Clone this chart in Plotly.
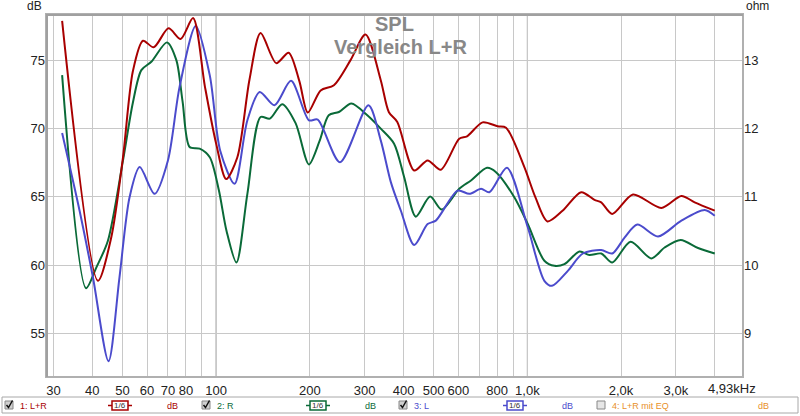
import numpy as np
import plotly.graph_objects as go

# Frequenzen (Hz) und Pegel (dB) der drei Kurven
f_lr = [32, 41.7, 46, 50.2, 54, 58.2, 63, 70.3, 76.9, 84.3, 92, 100, 107.7, 117, 128,
        138.9, 156, 171, 185, 197, 216.7, 239, 270, 302, 338, 359, 382, 433, 478, 527, 604,
        640, 718, 803, 854, 978, 1060, 1160, 1300, 1489, 1643, 1727, 1874, 2185, 2694, 3125,
        3448, 4000]
db_lr = [77.9, 58.85, 62.0, 67.9, 74.2, 76.44, 75.96, 77.35, 76.57, 78.1, 73.1, 68.9,
         66.3, 67.9, 73.6, 77.0, 74.8, 75.56, 73.5, 71.18, 72.8, 73.18, 75.0, 76.9, 73.55, 71.2,
         70.49, 66.93, 67.67, 66.99, 69.26, 69.43, 70.46, 70.17, 70.07, 67.18, 65.0, 63.2, 64.0,
         65.34, 64.78, 64.6, 63.75, 65.17, 64.19, 65.07, 64.6, 63.99]

f_r = [32, 38.2, 41.2, 44.9, 50.2, 54, 57.5, 61.9, 69.5, 74.5, 78, 82.2, 88.5, 95.4, 102,
       108, 116.2, 126, 138.9, 148.8, 163, 180, 198.7, 215, 230, 248, 272, 306, 338, 373, 402,
       438, 487, 531, 604, 659, 742, 793, 908, 1003, 1134, 1222, 1315, 1471, 1583, 1727, 1874,
       2146, 2502, 2761, 3109, 3535, 4000]
db_r = [73.92, 58.31, 59.82, 61.79, 67.67, 71.9, 74.29, 74.9, 76.32, 75.02, 72.0, 68.65,
        68.53, 67.9, 65.5, 62.5, 60.19, 65.22, 70.85, 70.73, 71.79, 70.4, 67.38, 69.1, 70.98,
        71.22, 71.84, 70.98, 70.0, 68.9, 66.44, 63.55, 65.02, 64.07, 65.59, 66.2, 67.13, 66.81,
        64.97, 63.01, 60.32, 59.95, 60.07, 61.0, 60.74, 60.85, 60.19, 61.71, 60.49, 61.29,
        61.84, 61.25, 60.85]

f_l = [32, 36.4, 40.2, 45.1, 48.9, 52.7, 56.8, 63.4, 70, 76.3, 86, 95.4, 103, 114.6, 126, 138,
       154, 174, 198.7, 212, 250, 308.6, 338, 364, 392, 433, 478, 508, 597, 651, 710, 755, 860,
       1003, 1134, 1200, 1349, 1507, 1727, 1874, 2055, 2255, 2629, 3125, 3714, 4000]
db_l = [69.68, 64.0, 59.09, 52.96, 59.09, 64.97, 67.18, 65.22, 67.67, 73.06, 77.52, 73.9, 68.4,
        65.96, 70.61, 72.69, 71.71, 73.5, 70.61, 70.66, 67.54, 71.71, 69.14, 66.1, 64.0, 61.47,
        63.01, 63.26, 65.46, 65.22, 65.59, 65.34, 67.13, 62.77, 58.85, 58.48, 59.58, 60.85,
        61.1, 60.85, 62.03, 62.97, 62.1, 63.26, 64.04, 63.62]

# Achsen
x_grid = [30, 40, 50, 60, 70, 80, 90, 100, 200, 300, 400, 500, 600, 700, 800, 900, 1000,
          2000, 3000, 4000]
x_text = ['30', '40', '50', '60', '70', '80', '', '100', '200', '300', '400', '500', '600', '',
          '800', '', '1,0k', '2,0k', '3,0k', '']
y_ticks = [55, 60, 65, 70, 75]
ohm_ticks = [9, 10, 11, 12, 13]
f_min, f_max = 28.4, 4930
db_min, db_max = 51.8, 78.4

# Farben
c_lr = '#a80000'
c_r = '#0a6a38'
c_l = '#4b4bcc'
c_eq = '#e8902a'

# Plotbereich in Pixeln
PL, PR, PT, PB = 46, 743, 14, 377
W, H = 800, 416


def px(x):
    return (x - PL) / (PR - PL)


def py(y):
    return (PB - y) / (PB - PT)


def fx(f):
    lo, hi = np.log10(f_min), np.log10(f_max)
    return (np.log10(f) - lo) / (hi - lo)


def label(text, x, y, size, color, xanchor='center'):
    return dict(text=text, x=px(x), y=py(y), xref='paper', yref='paper', showarrow=False,
                xanchor=xanchor, yanchor='middle', font=dict(size=size, color=color))


fig = go.Figure()
for f, d, c, n in [(f_r, db_r, c_r, '2: R'), (f_l, db_l, c_l, '3: L'),
                   (f_lr, db_lr, c_lr, '1: L+R')]:
    fig.add_trace(go.Scatter(x=f, y=d, mode='lines', name=n,
                             line=dict(color=c, width=2, shape='spline', smoothing=0.8)))

# unsichtbare Spur fuer die ohm-Achse
fig.add_trace(go.Scatter(x=[100], y=[10], yaxis='y2', mode='markers',
                         marker=dict(opacity=0), hoverinfo='skip', showlegend=False))

shapes = []
# dunklere Linien bei 100 Hz und 1 kHz
for f in [100, 1000]:
    shapes.append(dict(type='line', xref='paper', yref='paper', x0=fx(f), x1=fx(f), y0=0, y1=1,
                       line=dict(color='#808080', width=1), layer='below'))
# Rahmen (oben/links etwas kraeftiger)
shapes.append(dict(type='rect', xref='paper', yref='paper', x0=0, x1=1, y0=0, y1=1,
                   line=dict(color='#b0b0b0', width=2)))
shapes.append(dict(type='path', xref='paper', yref='paper',
                   path='M {} {} L {} {} L {} {}'.format(px(PL + 1), py(PB), px(PL + 1),
                                                         py(PT + 1), px(PR), py(PT + 1)),
                   line=dict(color='#a0a0a0', width=2)))

ann = [
    label('<b>SPL</b>', 394, 24, 20, '#888888'),
    label('<b>Vergleich L+R</b>', 400, 47, 20, '#888888'),
    label('dB', 34, 6, 12, '#222'),
    label('ohm', 757, 6, 12, '#222'),
    label('4,93kHz', 758, 389, 13, '#222', xanchor='right'),
]

# Legendenleiste unten
shapes.append(dict(type='rect', xref='paper', yref='paper', x0=px(2), x1=px(798),
                   y0=py(413), y1=py(397), line=dict(color='#a8a8a8', width=1),
                   fillcolor='white'))
legend_items = [
    (5, '1: L+R', c_lr, 120, 172, True),
    (202, '2: R', c_r, 318, 370, True),
    (399, '3: L', c_l, 515, 567, True),
    (597, '4: L+R mit EQ', c_eq, None, 764, False),
]
for cbx, name, col, box, dbx, checked in legend_items:
    shapes.append(dict(type='rect', xref='paper', yref='paper', x0=px(cbx), x1=px(cbx + 8),
                       y0=py(409), y1=py(401),
                       line=dict(color='#888', width=1),
                       fillcolor='#d0d0d0' if checked else '#e6e6e6'))
    if checked:
        # Haken als Pfad
        pts = [(cbx + 1.5, 405), (cbx + 3.5, 407.5), (cbx + 7.5, 400.5)]
        path = 'M {} {} L {} {} L {} {}'.format(*[v for p in pts for v in (px(p[0]), py(p[1]))])
        shapes.append(dict(type='path', xref='paper', yref='paper', path=path,
                           line=dict(color='#111', width=1.5)))
    ann.append(label(name, cbx + 13, 405.5, 9, col, xanchor='left'))
    if box is not None:
        shapes.append(dict(type='line', xref='paper', yref='paper', x0=px(box - 12),
                           x1=px(box + 12), y0=py(405.5), y1=py(405.5),
                           line=dict(color=col, width=1.5)))
        shapes.append(dict(type='rect', xref='paper', yref='paper', x0=px(box - 8),
                           x1=px(box + 8), y0=py(410), y1=py(401),
                           line=dict(color=col, width=1.5), fillcolor='white'))
        ann.append(label('1/6', box, 405.5, 8, '#333'))
    ann.append(label('dB', dbx, 405.5, 9, col))

fig.update_layout(
    width=W, height=H,
    margin=dict(l=PL, r=W - PR, t=PT, b=H - PB, pad=0),
    plot_bgcolor='white',
    paper_bgcolor='white',
    font=dict(family='Liberation Sans, Arial, sans-serif', color='#222'),
    showlegend=False,
    xaxis=dict(type='log', range=[np.log10(f_min), np.log10(f_max)],
               tickvals=x_grid, ticktext=x_text, showgrid=True, gridcolor='#c8c8c8',
               gridwidth=1, zeroline=False, showline=False, ticks='',
               ticklabelstandoff=4, tickfont=dict(size=13, color='#222')),
    yaxis=dict(range=[db_min, db_max], tickvals=y_ticks, showgrid=True,
               gridcolor='#c8c8c8', zeroline=False, showline=False, ticks='',
               tickfont=dict(size=13, color='#222')),
    yaxis2=dict(range=[(db_min - 55) / 5 + 9, (db_max - 55) / 5 + 9], tickvals=ohm_ticks,
                overlaying='y', side='right', showgrid=False, zeroline=False,
                showline=False, ticks='', tickfont=dict(size=13, color='#222')),
    shapes=shapes,
    annotations=ann,
)

fig.write_html("out.html", config={'displayModeBar': False},
               post_script="document.body.style.margin='0';")
